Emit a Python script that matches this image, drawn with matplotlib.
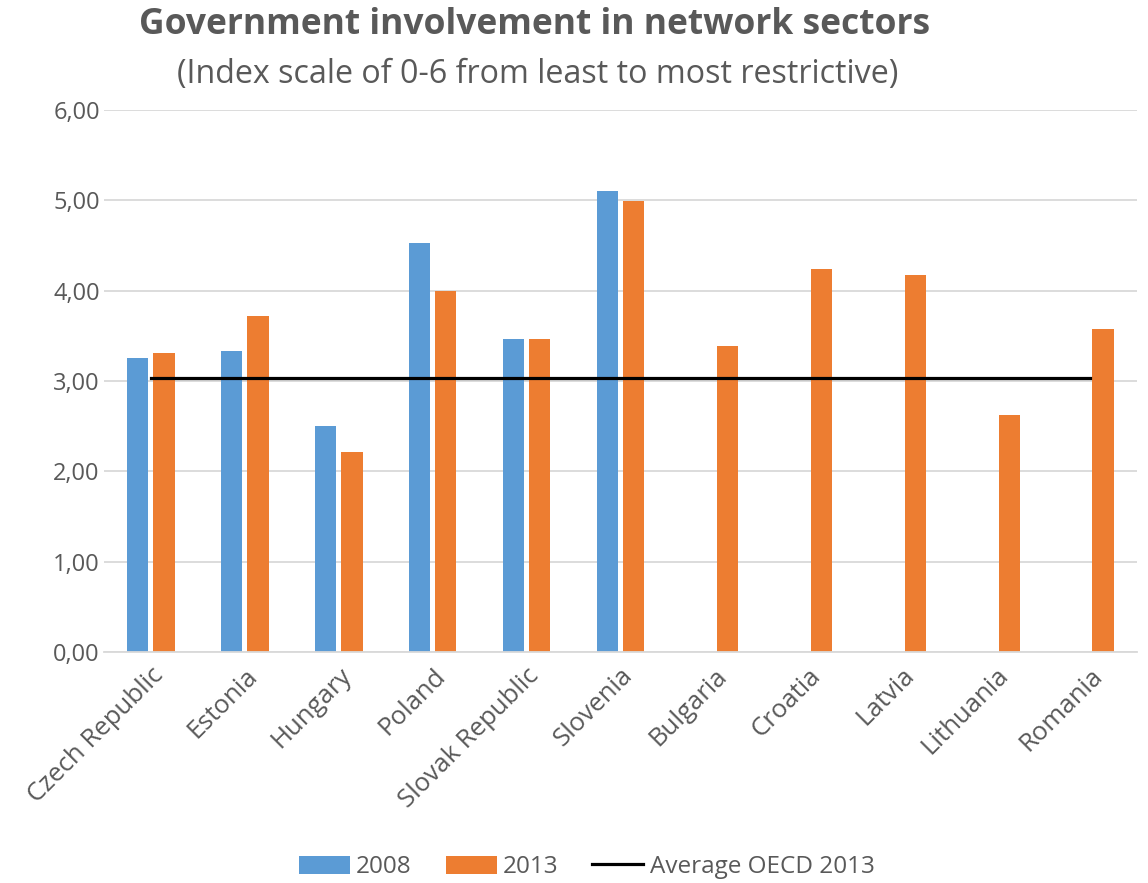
import matplotlib
matplotlib.use("Agg")
import matplotlib.pyplot as plt
import numpy as np
from matplotlib.ticker import FuncFormatter

countries = ["Czech Republic", "Estonia", "Hungary", "Poland", "Slovak Republic",
             "Slovenia", "Bulgaria", "Croatia", "Latvia", "Lithuania", "Romania"]
vals_2008 = [3.25, 3.33, 2.50, 4.53, 3.47, 5.10, np.nan, np.nan, np.nan, np.nan, np.nan]
vals_2013 = [3.31, 3.72, 2.21, 4.00, 3.47, 4.99, 3.39, 4.24, 4.17, 2.62, 3.58]
oecd_2013 = [3.03] * len(countries)

plt.rcParams['font.family'] = ['Open Sans', 'DejaVu Sans']
grey = "#595959"

fig = plt.figure(figsize=(11.48, 8.83), dpi=100)
ax = fig.add_axes([0.0906, 0.2616, 0.8997, 0.6138])

x = np.arange(len(countries))
w = 0.227
b1 = ax.bar(x - w / 2 - 0.027, vals_2008, w, color="#5b9bd5", label="2008", zorder=2)
b2 = ax.bar(x + w / 2 + 0.027, vals_2013, w, color="#ed7d31", label="2013", zorder=2)
ln, = ax.plot(x, oecd_2013, color="black", lw=2.3, label="Average OECD 2013", zorder=3)

ax.set_xlim(-0.5, len(countries) - 0.5)
ax.set_ylim(0, 6)
ax.set_yticks(np.arange(0, 6.01, 1))
ax.yaxis.set_major_formatter(FuncFormatter(lambda v, p: f"{v:.2f}".replace(".", ",")))
ax.grid(axis="y", color="#d9d9d9", lw=1.3, zorder=0)
for s in ["top", "right", "left"]:
    ax.spines[s].set_visible(False)
ax.spines["bottom"].set_color("#d9d9d9")
ax.spines["bottom"].set_linewidth(1.3)
ax.tick_params(axis="y", length=0, labelsize=17, labelcolor=grey, pad=3)
ax.tick_params(axis="x", length=0, labelsize=18.5, labelcolor=grey, pad=8)
ax.set_xticks(x)
ax.set_xticklabels(countries, rotation=45, ha="right", rotation_mode="anchor")

fig.text(0.466, 0.972, "Government involvement in network sectors", ha="center", va="center",
         fontsize=25.5, fontweight="bold", color=grey)
fig.text(0.468, 0.916, "(Index scale of 0-6 from least to most restrictive)", ha="center", va="center",
         fontsize=23.2, color=grey)

fig.legend(handles=[b1, b2, ln], loc="center", bbox_to_anchor=(0.511, 0.018), ncol=3, frameon=False,
           fontsize=17.5, labelcolor=grey, handlelength=2.1, handleheight=0.77, columnspacing=1.4,
           handletextpad=0.25)

fig.savefig("out.png", dpi=100)
